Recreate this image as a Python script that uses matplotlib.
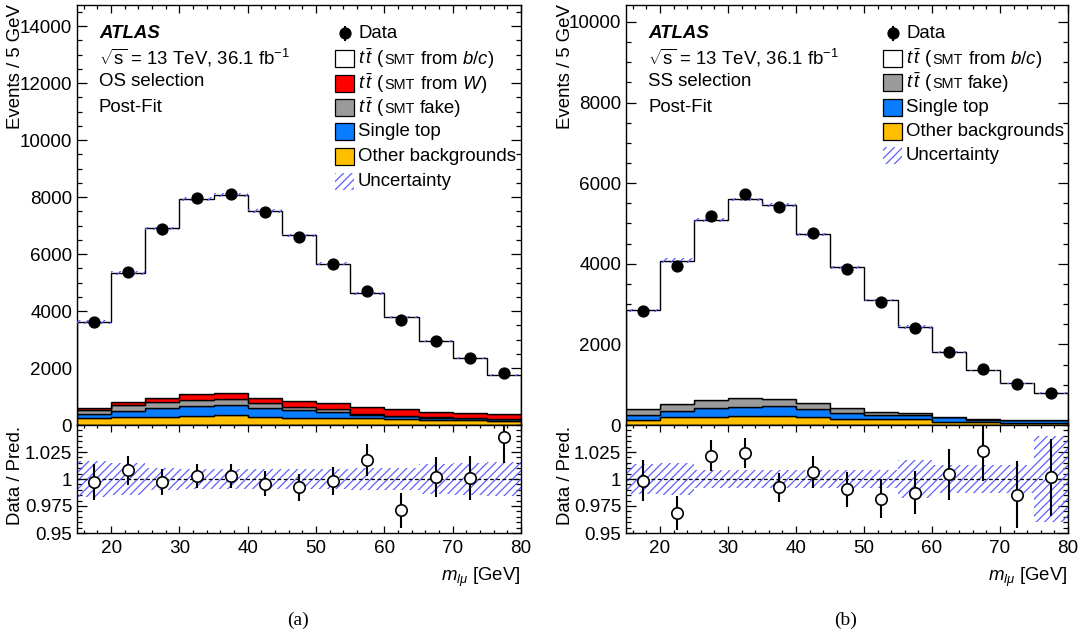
import numpy as np
import matplotlib
matplotlib.use("Agg")
import matplotlib.pyplot as plt
from matplotlib.patches import Rectangle
from matplotlib.lines import Line2D
from matplotlib.offsetbox import TextArea, HPacker, DrawingArea, AnchoredOffsetbox
from matplotlib.ticker import MultipleLocator, FixedLocator, FixedFormatter

plt.rcParams['font.family'] = ['Liberation Sans', 'DejaVu Sans']
plt.rcParams['mathtext.fontset'] = 'custom'
plt.rcParams['mathtext.rm'] = 'Liberation Sans'
plt.rcParams['mathtext.it'] = 'Liberation Sans:italic'
plt.rcParams['mathtext.bf'] = 'Liberation Sans:bold'
plt.rcParams['hatch.linewidth'] = 0.9

# ---------------- data ----------------
bin_edges = [15, 20, 25, 30, 35, 40, 45, 50, 55, 60, 65, 70, 75, 80]

# OS selection (a)
os_data = [3600, 5380, 6880, 7950, 8100, 7470, 6600, 5650, 4700, 3690, 2950, 2350, 1830]
os_ratio = [0.9969, 1.0080, 0.9975, 1.0025, 1.0031, 0.9957, 0.9923, 0.9981, 1.0176, 0.9710, 1.0019, 1.0009, 1.0389]
os_other = [234, 292, 292, 328, 351, 281, 250, 257, 234, 211, 175, 175, 152]
os_single = [140, 199, 293, 339, 351, 304, 265, 211, 117, 93, 82, 59, 59]
os_fake = [152, 211, 211, 211, 199, 176, 134, 82, 35, 24, 24, 23, 11]
os_fromW = [59, 117, 163, 198, 211, 198, 204, 211, 234, 222, 187, 153, 152]
os_unc = [0.0165, 0.015, 0.010, 0.009, 0.009, 0.009, 0.009, 0.009, 0.010, 0.010, 0.014, 0.015, 0.016]

# SS selection (b)
ss_data = [2840, 3945, 5190, 5730, 5410, 4765, 3870, 3050, 2405, 1810, 1390, 1017, 794]
ss_ratio = [0.9985, 0.9685, 1.0216, 1.0241, 0.9923, 1.0065, 0.9904, 0.9818, 0.9873, 1.0043, 1.0256, 0.9855, 1.0015]
ss_other = [132, 190, 190, 215, 232, 190, 150, 150, 140, 83, 66, 58, 58]
ss_single = [108, 157, 224, 240, 239, 207, 150, 98, 108, 107, 66, 58, 66]
ss_fake = [149, 182, 206, 207, 166, 141, 130, 83, 41, 17, 17, 16, 8]
ss_unc = [0.0135, 0.0145, 0.0085, 0.0085, 0.0085, 0.0085, 0.0085, 0.0085, 0.018, 0.013, 0.013, 0.013, 0.040]

ratio_ticks = [0.95, 0.975, 1.0, 1.025]
ratio_ticklabels = ['0.95', '0.975', '1', '1.025']

# ---------------- style ----------------
C_OTHER = '#ffbf00'
C_SINGLE = '#0a7cff'
C_FAKE = '#9b9b9b'
C_W = '#ff0000'
C_BC = '#ffffff'
C_HATCH = '#5f5fff'
FS = 13.4
FS_TICK = 13.6
FS_SMALL = 10.4

W, H = 1081, 637
fig = plt.figure(figsize=(W / 100, H / 100), dpi=100)


def fxy(x, y):
    return (x / W, 1 - y / H)


def add_axes(x0, y0, x1, y1):
    return fig.add_axes([x0 / W, 1 - y1 / H, (x1 - x0) / W, (y1 - y0) / H])


def label_box(parts):
    ch = []
    for p in parts:
        if isinstance(p, (int, float)):
            ch.append(DrawingArea(p, 1, 0, 0))
        else:
            ch.append(TextArea(p[0], textprops=dict(fontsize=p[1])))
    return HPacker(children=ch, align='baseline', pad=0, sep=0)


def place_box(box, x, y):
    ab = AnchoredOffsetbox(loc='center left', child=box, pad=0, borderpad=0,
                           frameon=False, bbox_to_anchor=fxy(x, y),
                           bbox_transform=fig.transFigure)
    fig.add_artist(ab)


def tt_label(tail):
    return [(r"$t\,\bar{t}$ (", FS), ("SMT", FS_SMALL), 3.7, (tail, FS)]


def style_axes(ax, ylen_major=7.5, xlen_major=6.0):
    for s in ax.spines.values():
        s.set_linewidth(1.0)
    ax.tick_params(which='both', direction='in', top=True, right=True,
                   labelsize=FS_TICK, width=0.9)
    ax.tick_params(axis='y', which='major', length=ylen_major, pad=3.5)
    ax.tick_params(axis='y', which='minor', length=ylen_major / 2)
    ax.tick_params(axis='x', which='major', length=xlen_major, pad=5)
    ax.tick_params(axis='x', which='minor', length=xlen_major / 2)
    ax.xaxis.set_major_locator(MultipleLocator(10))
    ax.xaxis.set_minor_locator(MultipleLocator(2))
    ax.set_xlim(bin_edges[0], bin_edges[-1])


def draw_panel(px0, px1, data, ratio, layers, unc, ymax, legend, sel, tag):
    edges = np.array(bin_edges, dtype=float)
    centers = 0.5 * (edges[1:] + edges[:-1])
    data = np.array(data, dtype=float)
    ratio = np.array(ratio, dtype=float)
    pred = data / ratio
    unc = np.array(unc, dtype=float)

    ax = add_axes(px0, 5, px1, 425)
    rx = add_axes(px0, 425, px1, 533)

    # stacked histograms
    base = np.zeros(len(data))
    bkg_sum = np.sum([np.array(v, dtype=float) for v, c in layers], axis=0)
    bc = pred - bkg_sum
    all_layers = list(layers) + [(bc, C_BC)]
    for vals, col in all_layers:
        vals = np.array(vals, dtype=float)
        ax.stairs(base + vals, edges, baseline=base.copy(), fill=True,
                  facecolor=col, edgecolor='black', linewidth=1.0, zorder=2)
        base = base + vals
    sig = unc * pred
    ax.stairs(pred + sig, edges, baseline=pred - sig, fill=True, facecolor='none',
              edgecolor=C_HATCH, hatch='////', linewidth=0, zorder=3)
    ax.vlines(centers, data - np.sqrt(data), data + np.sqrt(data), color='black',
              lw=1.5, zorder=4)
    ax.plot(centers, data, 'o', color='black', ms=7.8, zorder=5)

    style_axes(ax, ylen_major=7.5, xlen_major=6.0)
    ax.set_ylim(0, ymax)
    ax.yaxis.set_major_locator(MultipleLocator(2000))
    ax.yaxis.set_minor_locator(MultipleLocator(500))
    ax.tick_params(labelbottom=False)

    # ratio
    rx.stairs(1 + unc, edges, baseline=1 - unc, fill=True, facecolor='none',
              edgecolor=C_HATCH, hatch='////', linewidth=0, zorder=2)
    rx.axhline(1.0, color='black', lw=0.9, ls=(0, (3, 2)), zorder=3)
    rerr = np.sqrt(data) / pred
    rx.vlines(centers, ratio - rerr, ratio + rerr, color='black', lw=1.5, zorder=4)
    rx.plot(centers, ratio, 'o', mfc='white', mec='black', mew=1.2, ms=8.2, zorder=5)
    style_axes(rx, ylen_major=7.5, xlen_major=5.0)
    rx.set_ylim(0.95, 1.05)
    rx.yaxis.set_major_locator(FixedLocator(ratio_ticks))
    rx.yaxis.set_major_formatter(FixedFormatter(ratio_ticklabels))
    rx.yaxis.set_minor_locator(MultipleLocator(0.005))

    # axis titles
    yl_x = px0 - 61
    fig.text(*fxy(yl_x, 4), "Events / 5 GeV", rotation=90, ha='center', va='top', fontsize=FS)
    fig.text(*fxy(yl_x, 426), "Data / Pred.", rotation=90, ha='center', va='top', fontsize=FS)
    fig.text(*fxy(px1, 577), r"$m_{l\mu}$ [GeV]", ha='right', va='center', fontsize=FS)
    fig.text(*fxy(0.5 * (px0 + px1) - 1, 620), tag, ha='center', va='center',
             fontsize=14, family='Liberation Serif')

    # labels
    tx = px0 + 22
    fig.text(*fxy(tx, 33), "ATLAS", fontsize=FS, fontweight='bold', fontstyle='italic',
             ha='left', va='center')
    fig.text(*fxy(tx, 58), r"$\sqrt{\mathrm{s}}$ = 13 TeV, 36.1 fb$^{-1}$", fontsize=FS,
             ha='left', va='center')
    fig.text(*fxy(tx, 82), sel, fontsize=FS, ha='left', va='center')
    fig.text(*fxy(tx, 107), "Post-Fit", fontsize=FS, ha='left', va='center')

    # legend
    bx0, bx1, txt_x, rows = legend
    for kind, col, lab, y in rows:
        cx = 0.5 * (bx0 + bx1)
        if kind == 'data':
            fig.add_artist(Line2D([cx / W, cx / W], [1 - (y - 6.5) / H, 1 - (y + 6.5) / H],
                                  color='black', lw=1.5, transform=fig.transFigure))
            fig.add_artist(Line2D([cx / W], [1 - y / H], marker='o', color='black', ms=7.8,
                                  transform=fig.transFigure))
        elif kind == 'box':
            fig.add_artist(Rectangle(fxy(bx0, y + 8.5), (bx1 - bx0) / W, 17 / H,
                                     facecolor=col, edgecolor='black', lw=0.9,
                                     transform=fig.transFigure))
        else:
            fig.add_artist(Rectangle(fxy(bx0, y + 8.5), (bx1 - bx0) / W, 17 / H,
                                     facecolor='none', edgecolor=C_HATCH, hatch='////',
                                     lw=0, transform=fig.transFigure))
        if isinstance(lab, str):
            place_box(label_box([(lab, FS)]), txt_x, y)
        else:
            place_box(label_box(lab), txt_x, y)


# panel (a)
layers_os = [(os_other, C_OTHER), (os_single, C_SINGLE), (os_fake, C_FAKE), (os_fromW, C_W)]
legend_os = (335, 354, 358, [
    ('data', None, "Data", 33),
    ('box', C_BC, tt_label(r"from $b/c$)"), 58),
    ('box', C_W, tt_label(r"from $W$)"), 83),
    ('box', C_FAKE, tt_label("fake)"), 107),
    ('box', C_SINGLE, "Single top", 132),
    ('box', C_OTHER, "Other backgrounds", 156),
    ('hatch', None, "Uncertainty", 181),
])
draw_panel(77, 521, os_data, os_ratio, layers_os, os_unc, 14740, legend_os,
           "OS selection", "(a)")

# panel (b)
layers_ss = [(ss_other, C_OTHER), (ss_single, C_SINGLE), (ss_fake, C_FAKE)]
legend_ss = (883, 902, 906, [
    ('data', None, "Data", 33),
    ('box', C_BC, tt_label(r"from $b/c$)"), 58),
    ('box', C_FAKE, tt_label("fake)"), 82),
    ('box', C_SINGLE, "Single top", 107),
    ('box', C_OTHER, "Other backgrounds", 131),
    ('hatch', None, "Uncertainty", 155),
])
draw_panel(626, 1068, ss_data, ss_ratio, layers_ss, ss_unc, 10420, legend_ss,
           "SS selection", "(b)")

fig.savefig("out.png", dpi=100)
